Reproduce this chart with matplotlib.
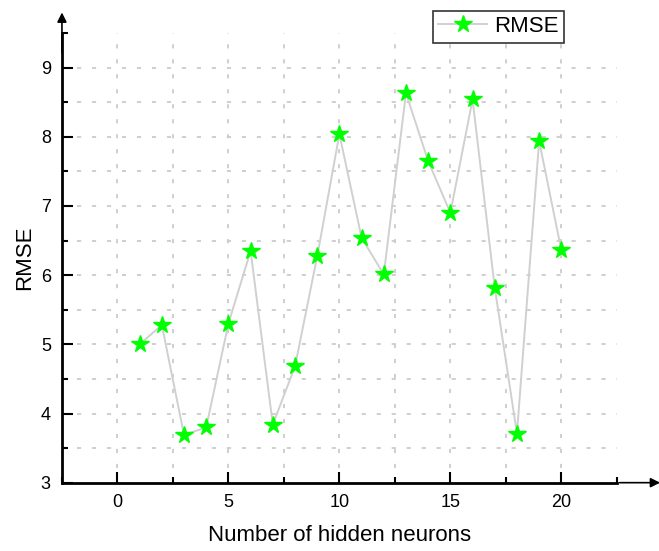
import matplotlib
matplotlib.use("Agg")
import matplotlib.pyplot as plt
import numpy as np
from matplotlib.ticker import MultipleLocator

plt.rcParams['font.family'] = ['Liberation Sans', 'DejaVu Sans']

neurons = list(range(1, 21))
rmse = [5.00, 5.28, 3.69, 3.80, 5.30, 6.35, 3.84, 4.68, 6.27, 8.04,
        6.54, 6.01, 8.63, 7.65, 6.90, 8.54, 5.82, 3.71, 7.94, 6.36]
x_ticks = [0, 5, 10, 15, 20]
y_ticks = [3, 4, 5, 6, 7, 8, 9]

XMIN, XMAX = -2.5, 22.5
YMIN, YMAX = 3, 9.5

fig = plt.figure(figsize=(6.59, 5.51), dpi=100)
ax = fig.add_axes([0.094, 0.124, 0.842, 0.816])

# dotted grid at every major and minor step, leaving the axis limits bare
grid_kw = dict(color='#cccccc', lw=1.3, linestyle=(0, (2.3, 6)), zorder=0)
for gx in np.arange(XMIN + 2.5, XMAX - 0.01, 2.5):
    ax.axvline(gx, **grid_kw)
for gy in np.arange(YMIN + 0.5, YMAX - 0.01, 0.5):
    ax.axhline(gy, **grid_kw)

ax.plot(neurons, rmse, color='#d0d0d0', lw=1.4, marker='*', markersize=13,
        markerfacecolor='#00ff00', markeredgecolor='#00ff00', label='RMSE', zorder=3)

ax.set_xlim(XMIN, XMAX)
ax.set_ylim(YMIN, YMAX)
ax.set_xticks(x_ticks)
ax.set_yticks(y_ticks)
ax.xaxis.set_minor_locator(MultipleLocator(2.5))
ax.yaxis.set_minor_locator(MultipleLocator(0.5))

for s in ['top', 'right']:
    ax.spines[s].set_visible(False)
for s in ['left', 'bottom']:
    ax.spines[s].set_linewidth(2)

ax.tick_params(which='major', direction='in', length=8, width=1.5, labelsize=13, pad=8)
ax.tick_params(which='minor', direction='in', length=4, width=1.5)

# arrow heads extending the axes
ax.annotate('', xy=(1.083, 0), xytext=(1.0, 0), xycoords='axes fraction',
            arrowprops=dict(arrowstyle='-|>', color='black', lw=1.2, mutation_scale=14),
            annotation_clip=False)
ax.annotate('', xy=(0, 1.052), xytext=(0, 0.95), xycoords='axes fraction',
            arrowprops=dict(arrowstyle='-|>', color='black', lw=1.2, mutation_scale=14),
            annotation_clip=False)

ax.set_xlabel('Number of hidden neurons', fontsize=16, labelpad=10)
ax.set_ylabel('RMSE', fontsize=16, labelpad=4)

leg = ax.legend(loc='upper right', bbox_to_anchor=(0.905, 1.05), fontsize=16,
                frameon=True, fancybox=False, edgecolor='black', handlelength=2.2,
                borderpad=0.25, handletextpad=0.3, borderaxespad=0)
leg.get_frame().set_linewidth(1.2)

fig.savefig('out.png', dpi=100)
